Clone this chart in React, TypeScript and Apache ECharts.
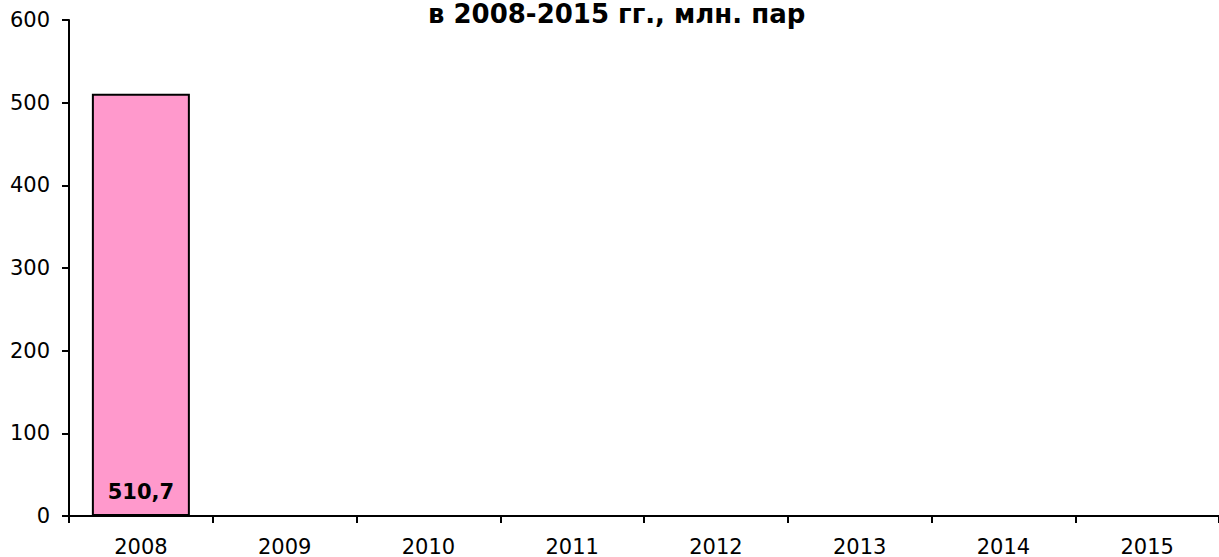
import React, { useEffect, useRef } from "react";
import * as echarts from "echarts";

const categories = ["2008", "2009", "2010", "2011", "2012", "2013", "2014", "2015"];
const values: (number | null)[] = [510.7, null, null, null, null, null, null, null];
const titleText = "в 2008-2015 гг., млн. пар";
const FONT = "Verdana, 'DejaVu Sans', sans-serif";

export default function App() {
  const ref = useRef<HTMLDivElement>(null);
  useEffect(() => {
    const chart = echarts.init(ref.current!, undefined, { renderer: "svg" });
    chart.setOption({
      animation: false,
      backgroundColor: "#ffffff",
      title: {
        text: titleText,
        left: 428,
        top: 1,
        padding: 0,
        textStyle: { fontFamily: FONT, fontSize: 26, lineHeight: 26, fontWeight: "bold", color: "#000" },
      },
      grid: { left: 69, top: 20, bottom: 41, right: -8, containLabel: false },
      xAxis: {
        type: "category",
        data: categories,
        boundaryGap: true,
        axisLine: { lineStyle: { color: "#000", width: 2 } },
        axisTick: { show: true, length: 7, lineStyle: { color: "#000", width: 2 } },
        axisLabel: { color: "#000", fontFamily: FONT, fontSize: 21, margin: 20 },
        splitLine: { show: false },
      },
      yAxis: {
        type: "value",
        min: 0,
        max: 600,
        interval: 100,
        axisLine: { show: true, lineStyle: { color: "#000", width: 2 } },
        axisTick: { show: true, length: 7, lineStyle: { color: "#000", width: 2 } },
        axisLabel: { color: "#000", fontFamily: FONT, fontSize: 21, margin: 19 },
        splitLine: { show: false },
      },
      series: [
        {
          type: "bar",
          data: values,
          barWidth: 98,
          itemStyle: { color: "#FF99CC", borderColor: "#000", borderWidth: 2 },
          label: {
            show: true,
            position: "insideBottom",
            distance: 14,
            formatter: (p: any) => String(p.value).replace(".", ","),
            fontFamily: FONT,
            fontSize: 21,
            fontWeight: "bold",
            color: "#000",
          },
        },
      ],
    });
    return () => chart.dispose();
  }, []);
  return (
    <div
      ref={ref}
      style={{ position: "fixed", left: 0, top: 0, width: 1219, height: 557 }}
    />
  );
}
